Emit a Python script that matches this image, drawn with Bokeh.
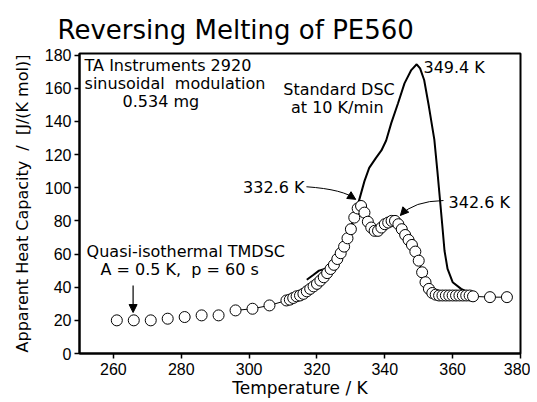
from bokeh.plotting import figure
from bokeh.models import FixedTicker, Label, Arrow, NormalHead, Range1d
from bokeh.embed import file_html
from bokeh.resources import INLINE

# Quasi-isothermal TMDSC apparent heat capacity
tm_T = [261, 266, 271, 276, 281, 286, 291, 296, 301, 306,
        311, 312, 313, 314, 315, 316, 317, 318, 319, 320,
        321, 322, 323, 324, 325, 326, 327, 328, 329, 330,
        331, 332, 333, 334, 335, 336, 337, 338, 339, 340,
        341, 342, 343, 344, 345, 346, 347, 348, 349, 350,
        351, 352, 353, 354, 355, 356, 357, 358, 359, 360,
        361, 362, 363, 364, 365, 366, 371, 376]
tm_C = [20, 20, 20, 21, 22, 23, 23, 26, 27, 29,
        32, 32.5, 33.5, 34.5, 35, 36, 37.5, 39, 40.5, 42,
        44, 46, 48.5, 51, 53.5, 57, 60.5, 64.5, 69.5, 75,
        82, 87.5, 89, 85, 79.5, 76, 74, 74, 76, 78,
        79, 80, 80, 78, 75, 71.5, 68.5, 65.5, 61.5, 56,
        49, 43, 39, 36.5, 35.5, 35, 35, 35, 35, 35,
        35, 35, 35, 35, 35, 34.5, 34, 34]

# Standard DSC at 10 K/min
dsc_T = [317, 319, 320.6, 323, 325, 327, 329, 331, 332.5, 334,
         335.4, 337.4, 339, 340.4, 341.9, 343.9, 345.8, 347.8, 349.4, 350.4,
         351.6, 353, 354.6, 355.5, 356.3, 357, 357.6, 358.5, 360, 362.5, 365.5]
dsc_C = [44.5, 47.5, 50, 51.5, 55, 62, 71, 82, 93, 104,
         112, 118, 122.5, 128.5, 139, 151, 163, 171, 174.5, 172,
         165, 149, 129, 110, 92, 76, 62, 51, 43, 39, 36]

x_ticks = [260, 280, 300, 320, 340, 360, 380]
y_ticks = [0, 20, 40, 60, 80, 100, 120, 140, 160, 180]

TICKFONT = "Liberation Sans"
FONT = "DejaVu Sans"
NB = "\u00a0"

p = figure(width=530, height=400, x_range=Range1d(250, 380), y_range=Range1d(0, 181),
           output_backend="svg", toolbar_location=None,
           min_border_left=79, min_border_right=10, min_border_top=53, min_border_bottom=47)
p.grid.visible = False
p.outline_line_color = "black"
p.outline_line_width = 2
p.outline_line_alpha = 1.0
p.background_fill_color = "white"
p.border_fill_color = "white"

p.title.text = "Reversing Melting of PE560"
p.title.text_font = FONT
p.title.text_font_size = "26px"
p.title.text_font_style = "normal"
p.title.text_color = "black"
p.title.align = "left"
p.title.offset = -22
p.title.standoff = 17

for ax in (p.xaxis[0], p.yaxis[0]):
    ax.axis_line_width = 2
    ax.major_tick_in = 0
    ax.major_tick_out = 5
    ax.major_tick_line_width = 1.5
    ax.minor_tick_line_color = None
    ax.major_label_text_font = TICKFONT
    ax.major_label_text_font_size = "16px"
    ax.major_label_text_color = "black"
    ax.axis_label_text_font = FONT
    ax.axis_label_text_font_style = "normal"
    ax.axis_label_text_color = "black"
p.xaxis.ticker = FixedTicker(ticks=x_ticks)
p.yaxis.ticker = FixedTicker(ticks=y_ticks)
p.xaxis.major_label_standoff = 4
p.yaxis.major_label_standoff = 3

p.xaxis.axis_label = "Temperature / K"
p.xaxis.axis_label_text_font_size = "17px"
p.xaxis.axis_label_standoff = 0

p.yaxis.axis_label = "Apparent Heat Capacity " + NB + "/" + NB + " [J/(K mol)]"
p.yaxis.axis_label_text_font_size = "16px"
p.yaxis.axis_label_standoff = 10

# lines under the circles
p.line(dsc_T, dsc_C, line_color="black", line_width=2)
p.line(tm_T[7:], tm_C[7:], line_color="black", line_width=1)
p.scatter(tm_T, tm_C, size=11, marker="circle", fill_color="white",
          line_color="black", line_width=1)

def lab(x, y, text, size="16px", align="left", font=FONT):
    p.add_layout(Label(x=x, y=y, text=text, text_font=font, text_font_size=size,
                       text_align=align, text_baseline="middle", text_color="black"))

lab(251.5, 173.8, "TA Instruments 2920")
lab(251.5, 163, "sinusoidal" + NB + " modulation")
lab(262.7, 152, "0.534 mg")
lab(326.5, 159, "Standard DSC", align="center")
lab(326.0, 148.5, "at 10 K/min", align="center")
lab(351.4, 172.5, "349.4 K")
lab(316.3, 100, "332.6 K", align="right")
lab(358.8, 91, "342.6 K")
lab(252.1, 61.5, "Quasi-isothermal TMDSC")
lab(256.2, 50.5, "A = 0.5 K," + NB + " p = 60 s")

# curved arrows
p.quadratic(x0=[316.9], y0=[100.6], x1=[331.4], y1=[93.0], cx=[328.0], cy=[99.0],
            line_color="black", line_width=1)
p.quadratic(x0=[357.3], y0=[92.3], x1=[344.6], y1=[83.3], cx=[348.5], cy=[92.0],
            line_color="black", line_width=1)
head = dict(size=8, fill_color="black", line_color="black")
p.add_layout(Arrow(end=NormalHead(**head), x_start=329.4, y_start=95.6, x_end=331.4, y_end=93.0,
                   line_width=1))
p.add_layout(Arrow(end=NormalHead(**head), x_start=345.8, y_start=86.0, x_end=344.6, y_end=83.3,
                   line_width=1))
p.add_layout(Arrow(end=NormalHead(**head), x_start=265.8, y_start=41.0, x_end=265.8, y_end=24.7,
                   line_width=1.2))

open("out.html", "w").write(file_html(p, INLINE))
